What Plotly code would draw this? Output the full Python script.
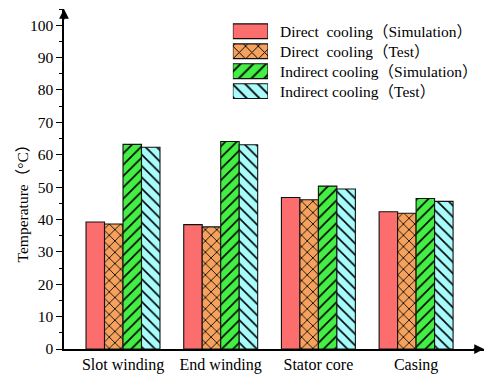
import plotly.graph_objects as go

categories = ["Slot winding", "End winding", "Stator core", "Casing"]
series_names = [
    "Direct\u00a0 cooling（Simulation）",
    "Direct\u00a0 cooling（Test）",
    "Indirect cooling（Simulation）",
    "Indirect cooling（Test）",
]
direct_sim = [39.2, 38.4, 46.8, 42.4]
direct_test = [38.6, 37.7, 46.1, 41.9]
indirect_sim = [63.2, 64.1, 50.3, 46.5]
indirect_test = [62.3, 63.1, 49.4, 45.6]
y_ticks = [0, 10, 20, 30, 40, 50, 60, 70, 80, 90, 100]

colors = ["#FC6E6E", "#F5A25E", "#44EE44", "#A8FCFC"]
shapes = ["", "x", "/", "\\"]
values = [direct_sim, direct_test, indirect_sim, indirect_test]

FONT = "Liberation Serif, Times New Roman, Noto Sans CJK SC, serif"

fig = go.Figure()
for name, vals, col, shp in zip(series_names, values, colors, shapes):
    fig.add_trace(go.Bar(
        x=categories, y=vals, name=name, showlegend=False,
        marker=dict(color=col, line=dict(color="#111111", width=1.1),
                    pattern=dict(shape=shp, fgcolor="#000000", bgcolor=col,
                                 size=8, solidity=0.2, fillmode="replace")),
        xaxis="x", yaxis="y",
    ))

# legend swatches drawn as small bars on an overlay axis
for name, col, shp in zip(series_names, colors, shapes):
    fig.add_trace(go.Bar(
        y=[name], x=[1], orientation="h", offsetgroup="legend",
        showlegend=False, width=0.74, hoverinfo="skip",
        marker=dict(color=col, line=dict(color="#111111", width=1.2),
                    pattern=dict(shape=shp, fgcolor="#000000", bgcolor=col,
                                 size=9, solidity=0.2, fillmode="replace")),
        xaxis="x2", yaxis="y2",
    ))

annotations = []
for name in series_names:
    annotations.append(dict(x=0.5095, xref="paper", y=name, yref="y2",
                            text=name, showarrow=False, xanchor="left",
                            yanchor="middle", font=dict(size=15.5, family=FONT, color="#000")))
# y-axis title
annotations.append(dict(x=-0.1, xref="paper", y=0.44, yref="paper",
                        text="Temperature（°C）", textangle=-90, showarrow=False,
                        xanchor="center", yanchor="middle",
                        font=dict(size=15.5, family=FONT, color="#000")))
# axis arrows
annotations.append(dict(x=0, y=1, xref="paper", yref="paper", ax=0, ay=12,
                        showarrow=True, arrowhead=2, arrowsize=1.5, arrowwidth=1.3,
                        arrowcolor="#000", text=""))
annotations.append(dict(x=1, y=0, xref="paper", yref="paper", ax=-12, ay=0,
                        showarrow=True, arrowhead=2, arrowsize=1.5, arrowwidth=1.3,
                        arrowcolor="#000", text=""))

fig.update_layout(
    width=485, height=377,
    margin=dict(l=64, r=1, t=9, b=28),
    paper_bgcolor="white", plot_bgcolor="white",
    barmode="group", bargap=0.243, bargroupgap=0,
    font=dict(family=FONT, size=15, color="#000"),
    xaxis=dict(range=[-0.604, 3.695], showline=True, linecolor="#000", linewidth=1.5,
               ticks="", showgrid=False, zeroline=False,
               tickfont=dict(size=16, family=FONT, color="#000")),
    yaxis=dict(range=[0, 105], showline=True, linecolor="#000", linewidth=1.5,
               tickmode="array", tickvals=y_ticks, ticks="outside", ticklen=6,
               tickwidth=1.2, tickcolor="#000",
               minor=dict(dtick=5, ticks="outside", ticklen=3, tickwidth=1.2, tickcolor="#000"),
               showgrid=False, zeroline=False,
               tickfont=dict(size=15.5, family=FONT, color="#000")),
    xaxis2=dict(domain=[0.402, 0.4857], range=[0, 1], anchor="y2", visible=False,
                fixedrange=True),
    yaxis2=dict(domain=[0.7276, 0.9656], anchor="x2", visible=False,
                categoryorder="array", categoryarray=series_names,
                autorange="reversed", fixedrange=True),
    annotations=annotations,
)

fig.write_html("out.html")
